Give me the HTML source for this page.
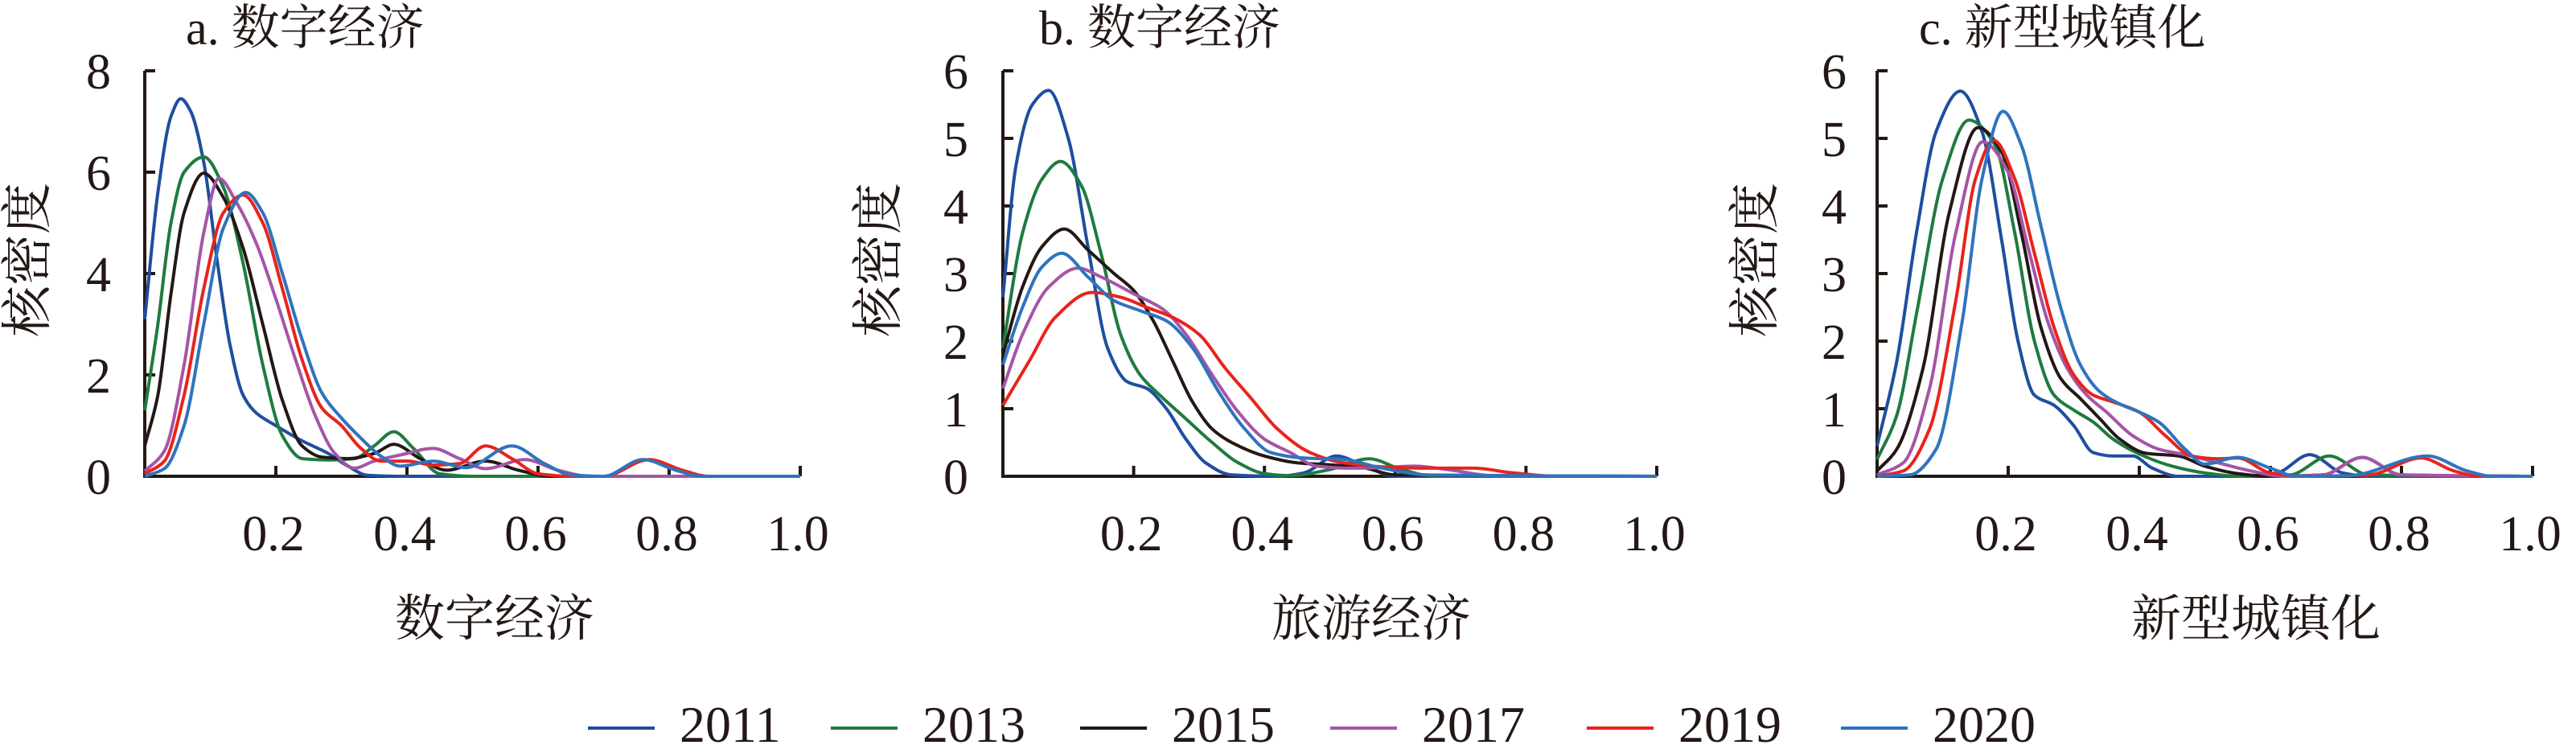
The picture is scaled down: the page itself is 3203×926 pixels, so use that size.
<!DOCTYPE html>
<html><head><meta charset="utf-8"><style>
html,body{margin:0;padding:0;background:#fff;}
svg{display:block;}
text{font-family:"Liberation Serif","Noto Serif CJK SC","Noto Sans CJK SC",serif;fill:#231815;}
</style></head><body>
<svg id="chart" width="3203" height="926" viewBox="0 0 3203 926" xmlns="http://www.w3.org/2000/svg"></svg>
<script>
const years = ["2011","2013","2015","2017","2019","2020"];
const colors = ["#1f4e9f","#1e7b3f","#231815","#a555a7","#e8241c","#2f73bd"];
const xTickLabels = ["0.2","0.4","0.6","0.8","1.0"];
const xTickValues = [0.2,0.4,0.6,0.8,1.0];
const panelTitles = ["a. 数字经济","b. 数字经济","c. 新型城镇化"];
const panelXLabels = ["数字经济","旅游经济","新型城镇化"];
const panelYMax = [8,6,6];
const panelYTicks = [[0,2,4,6,8],[0,1,2,3,4,5,6],[0,1,2,3,4,5,6]];

// Panel a series
const aX2011=[0,0.02,0.04,0.055,0.07,0.09,0.11,0.13,0.15,0.17,0.2,0.24,0.28,0.31,0.34,0.4,1.0];
const aY2011=[3.1,5.6,7.1,7.45,7.2,6.2,4.3,2.6,1.6,1.25,1.0,0.7,0.45,0.2,0.02,0,0];
const aX2013=[0,0.02,0.04,0.06,0.09,0.12,0.15,0.18,0.21,0.24,0.28,0.32,0.35,0.38,0.41,0.45,0.5,1];
const aY2013=[1.3,3.0,5.0,6.0,6.3,5.7,4.2,2.2,0.8,0.35,0.32,0.35,0.6,0.88,0.55,0.05,0,0];
const aX2015=[0,0.02,0.04,0.06,0.09,0.12,0.15,0.18,0.21,0.24,0.27,0.31,0.35,0.38,0.42,0.46,0.52,0.57,0.62,1];
const aY2015=[0.6,1.6,3.6,5.2,5.98,5.5,4.5,3.0,1.5,0.6,0.38,0.35,0.45,0.63,0.35,0.12,0.3,0.12,0,0];
const aX2017=[0,0.03,0.06,0.09,0.113,0.14,0.17,0.2,0.23,0.26,0.29,0.32,0.35,0.39,0.44,0.48,0.52,0.58,0.63,0.68,1];
const aY2017=[0.1,0.5,2.2,4.8,5.88,5.4,4.6,3.5,2.3,1.2,0.45,0.16,0.3,0.42,0.55,0.35,0.15,0.33,0.12,0,0];
const aX2019=[0,0.03,0.06,0.09,0.12,0.15,0.18,0.21,0.24,0.27,0.3,0.33,0.36,0.4,0.44,0.48,0.52,0.56,0.6,0.65,0.7,0.77,0.82,0.86,1];
const aY2019=[0.05,0.3,1.6,3.7,5.2,5.55,5.0,3.7,2.3,1.35,1.0,0.55,0.3,0.3,0.22,0.25,0.6,0.35,0.05,0,0,0.33,0.12,0,0];
const aX2020=[0,0.03,0.06,0.09,0.12,0.154,0.18,0.21,0.24,0.27,0.3,0.33,0.36,0.39,0.44,0.49,0.56,0.61,0.65,0.7,0.76,0.81,0.85,1];
const aY2020=[0,0.15,1.0,3.0,4.9,5.6,5.2,4.0,2.7,1.65,1.15,0.75,0.4,0.2,0.3,0.17,0.6,0.25,0.03,0,0.33,0.12,0,0];
// Panel b series
const bX2011=[0,0.02,0.045,0.07,0.1,0.13,0.16,0.19,0.22,0.25,0.28,0.31,0.35,0.42,0.46,0.51,0.56,0.6,1];
const bY2011=[2.65,4.6,5.5,5.71,5.0,3.4,1.9,1.4,1.3,1.0,0.55,0.2,0.02,0,0.05,0.3,0.12,0,0];
const bX2013=[0,0.03,0.06,0.088,0.12,0.15,0.18,0.21,0.24,0.28,0.32,0.36,0.4,0.44,0.5,0.56,0.61,0.66,1];
const bY2013=[1.9,3.6,4.4,4.66,4.3,3.3,2.1,1.5,1.2,0.85,0.5,0.2,0.04,0.01,0.1,0.26,0.1,0,0];
const bX2015=[0,0.03,0.06,0.094,0.13,0.17,0.2,0.23,0.26,0.29,0.32,0.35,0.4,0.45,0.5,0.55,0.6,1];
const bY2015=[1.8,2.8,3.4,3.66,3.35,3.0,2.75,2.3,1.7,1.1,0.7,0.5,0.3,0.2,0.17,0.13,0.02,0];
const bX2017=[0,0.03,0.07,0.115,0.15,0.2,0.245,0.28,0.32,0.36,0.4,0.44,0.48,0.53,0.58,0.63,0.68,0.75,1];
const bY2017=[1.3,2.1,2.8,3.08,2.95,2.7,2.47,2.1,1.5,0.95,0.55,0.35,0.15,0.12,0.13,0.15,0.1,0.01,0];
const bX2019=[0,0.04,0.08,0.136,0.18,0.22,0.26,0.3,0.34,0.38,0.42,0.47,0.52,0.58,0.65,0.72,0.78,0.85,1];
const bY2019=[1.05,1.7,2.35,2.72,2.65,2.5,2.35,2.1,1.6,1.15,0.7,0.35,0.2,0.14,0.12,0.12,0.05,0,0];
const bX2020=[0,0.03,0.06,0.09,0.13,0.17,0.21,0.25,0.29,0.33,0.37,0.41,0.46,0.52,0.58,0.65,1];
const bY2020=[1.65,2.5,3.1,3.3,2.95,2.6,2.45,2.3,1.9,1.25,0.7,0.35,0.27,0.25,0.12,0.02,0];
// Panel c series
const cX2011=[0,0.03,0.06,0.09,0.127,0.16,0.19,0.215,0.24,0.27,0.3,0.33,0.36,0.39,0.42,0.46,0.55,0.61,0.66,0.71,0.75,1];
const cY2011=[0.45,1.7,3.6,5.1,5.7,5.1,3.5,2.0,1.2,1.05,0.75,0.35,0.3,0.3,0.12,0,0,0.05,0.32,0.05,0,0];
const cX2013=[0,0.03,0.06,0.1,0.14,0.18,0.21,0.24,0.27,0.3,0.33,0.36,0.4,0.45,0.5,0.55,0.63,0.69,0.75,1];
const cY2013=[0.25,0.9,2.4,4.4,5.27,4.9,3.6,2.0,1.2,0.98,0.8,0.55,0.33,0.15,0.05,0,0.02,0.3,0.02,0];
const cX2015=[0,0.03,0.07,0.11,0.154,0.19,0.22,0.25,0.28,0.31,0.34,0.37,0.41,0.46,0.5,0.55,0.6,0.68,0.74,0.8,1];
const cY2015=[0.08,0.4,1.6,3.9,5.16,4.8,3.6,2.2,1.45,1.15,0.85,0.55,0.34,0.3,0.15,0.04,0,0.02,0.28,0.02,0];
const cX2017=[0,0.04,0.08,0.12,0.161,0.2,0.23,0.26,0.29,0.32,0.35,0.39,0.43,0.47,0.52,0.57,0.62,0.68,0.74,0.8,1];
const cY2017=[0.02,0.2,1.3,3.6,4.95,4.5,3.4,2.3,1.6,1.2,0.95,0.6,0.4,0.32,0.2,0.08,0,0.02,0.28,0.02,0];
const cX2019=[0,0.04,0.08,0.12,0.15,0.178,0.21,0.24,0.27,0.3,0.33,0.36,0.4,0.44,0.48,0.52,0.55,0.6,0.65,0.75,0.83,0.88,0.92,1];
const cY2019=[0,0.08,0.7,2.6,4.4,4.97,4.4,3.3,2.2,1.5,1.2,1.1,0.95,0.6,0.3,0.26,0.27,0.05,0,0.02,0.27,0.08,0,0];
const cX2020=[0,0.05,0.09,0.13,0.16,0.192,0.22,0.25,0.28,0.31,0.34,0.37,0.4,0.43,0.47,0.5,0.55,0.6,0.64,0.72,0.84,0.9,0.94,1];
const cY2020=[0,0.02,0.4,2.3,4.4,5.4,4.9,3.7,2.5,1.65,1.25,1.07,0.95,0.8,0.4,0.18,0.28,0.12,0,0.01,0.3,0.08,0,0];

const panelSeries=[
 [[aX2011,aY2011],[aX2013,aY2013],[aX2015,aY2015],[aX2017,aY2017],[aX2019,aY2019],[aX2020,aY2020]],
 [[bX2011,bY2011],[bX2013,bY2013],[bX2015,bY2015],[bX2017,bY2017],[bX2019,bY2019],[bX2020,bY2020]],
 [[cX2011,cY2011],[cX2013,cY2013],[cX2015,cY2015],[cX2017,cY2017],[cX2019,cY2019],[cX2020,cY2020]]
];

const NS="http://www.w3.org/2000/svg";
const svg=document.getElementById('chart');
function mk(tag,attrs,parent){const e=document.createElementNS(NS,tag);for(const k in attrs)e.setAttribute(k,attrs[k]);(parent||svg).appendChild(e);return e;}

// layout (not data)
const layout=[
 {x0:180,x1:995,yl:138,title:231,xlab:615,ylab:34},
 {x0:1247,x1:2060,yl:1204,title:1292,xlab:1705,ylab:1092},
 {x0:2334,x1:3149,yl:2296,title:2386,xlab:2805,ylab:2182}
];
const Y0=592, YT=88;

function monotonePath(px,py){
 const n=px.length; if(n<2) return '';
 const d=[],m=[];
 for(let i=0;i<n-1;i++){d.push((py[i+1]-py[i])/(px[i+1]-px[i]));}
 m[0]=d[0]; m[n-1]=d[n-2];
 for(let i=1;i<n-1;i++){ if(d[i-1]*d[i]<=0) m[i]=0; else { const h0=px[i]-px[i-1],h1=px[i+1]-px[i]; m[i]=3*(h0+h1)/((2*h1+h0)/d[i-1]+(h1+2*h0)/d[i]); } }
 let s='M'+px[0].toFixed(1)+','+py[0].toFixed(1);
 for(let i=0;i<n-1;i++){const h=px[i+1]-px[i];
  s+=' C'+(px[i]+h/3).toFixed(1)+','+(py[i]+m[i]*h/3).toFixed(1)+' '+(px[i+1]-h/3).toFixed(1)+','+(py[i+1]-m[i+1]*h/3).toFixed(1)+' '+px[i+1].toFixed(1)+','+py[i+1].toFixed(1);}
 return s;
}

layout.forEach((L,p)=>{
 const g=mk('g',{});
 
 
 const sx=v=>L.x0+v*(L.x1-L.x0);
 const sy=v=>Y0-v/panelYMax[p]*(Y0-YT);
 const t=mk('text',{x:L.title,y:55,'font-size':60},g); t.textContent=panelTitles[p];
 
 
 const xl=mk('text',{x:L.xlab,y:790,'font-size':62,'text-anchor':'middle'},g); xl.textContent=panelXLabels[p];
 
 
 const yl=mk('text',{x:0,y:0,'font-size':64,'text-anchor':'middle',transform:'translate('+(L.ylab+22)+',323) rotate(-90)'},g); yl.textContent='核密度';
 
 
 // axes
 const ax=mk('path',{d:'M'+L.x0+','+YT+' V'+Y0+' H'+L.x1,fill:'none',stroke:'#231815','stroke-width':4},g);
 
 
 panelYTicks[p].forEach(v=>{
  if(v>0){const tk=mk('line',{x1:L.x0,x2:L.x0+13,y1:sy(v),y2:sy(v),stroke:'#231815','stroke-width':4},g);
   
   }
  const tl=mk('text',{x:L.yl,y:sy(v)+22,'font-size':62,'text-anchor':'end'},g); tl.textContent=String(v);
  
  
 });
 xTickValues.forEach((v,i)=>{
  const tk=mk('line',{x1:sx(v),x2:sx(v),y1:Y0,y2:Y0-13,stroke:'#231815','stroke-width':4},g);
  
  
  const tl=mk('text',{x:sx(v)-3,y:684,'font-size':62,'text-anchor':'middle'},g); tl.textContent=xTickLabels[i];
  
  
 });
 panelSeries[p].forEach((s,k)=>{
  const px=s[0].map(sx), py=s[1].map(v=>Math.min(Y0,sy(v)));
  const path=mk('path',{d:monotonePath(px,py),fill:'none',stroke:colors[k],'stroke-width':4,'stroke-linejoin':'round'},g);
  
  
 });
});

// legend
const legendLineX=[731,1033,1343,1654,1973,2289];
const lg=mk('g',{});


years.forEach((yr,i)=>{
 const e=mk('g',{},lg);
 
 
 mk('line',{x1:legendLineX[i],x2:legendLineX[i]+83,y1:905,y2:905,stroke:colors[i],'stroke-width':4},e);
 const t=mk('text',{x:legendLineX[i]+114,y:922,'font-size':64},e); t.textContent=yr;
});
</script>
</body></html>
